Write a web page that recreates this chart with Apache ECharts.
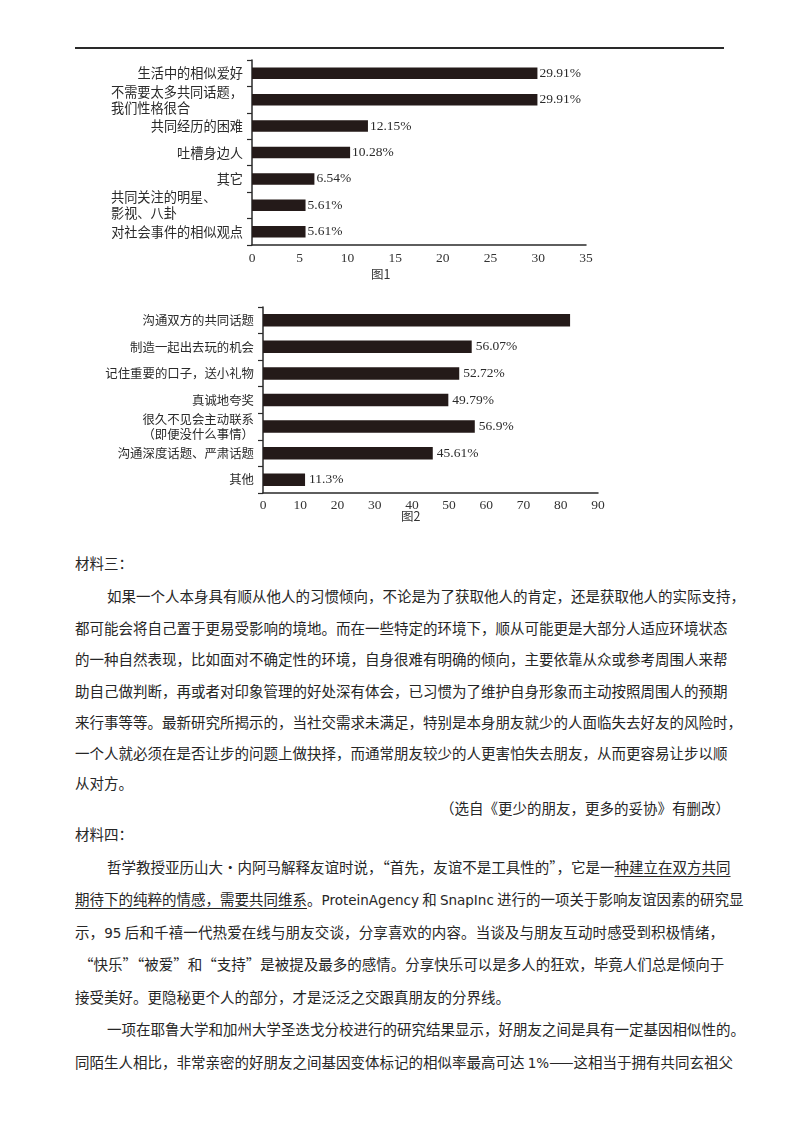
<!DOCTYPE html>
<html>
<head>
<meta charset="utf-8">
<script src="https://cdn.jsdelivr.net/npm/echarts@6/dist/echarts.min.js"></script>
<style>
  html, body { margin:0; padding:0; background:#fff; }
  #page { position:relative; width:800px; height:1132px; overflow:hidden; background:#fff; }
  #chart { position:absolute; left:0; top:0; width:800px; height:540px; }
  .rule { position:absolute; left:75px; top:47px; width:649px; height:2px; background:#2a2a2a; z-index:5; }
  .ln { position:absolute; height:20px; line-height:20px; font-family:"Noto Sans CJK SC", sans-serif;
        font-size:14.5px; color:#262626; white-space:nowrap; }
  .j { text-align:justify; text-align-last:justify; }
  u { text-decoration:underline; text-underline-offset:3px; text-decoration-thickness:1px; }
  .lat { font-family:"DejaVu Sans", sans-serif; font-size:13.5px; }
</style>
</head>
<body>
<div id="page">
  <div id="chart"></div>
  <div class="rule"></div>

  <div class="ln" style="left:75px;top:553px;">材料三：</div>
  <div class="ln j" style="left:107px;top:586px;width:617px;">如果一个人本身具有顺从他人的习惯倾向，不论是为了获取他人的肯定，还是获取他人的实际支持，</div>
  <div class="ln j" style="left:75px;top:618px;width:649px;">都可能会将自己置于更易受影响的境地。而在一些特定的环境下，顺从可能更是大部分人适应环境状态</div>
  <div class="ln j" style="left:75px;top:649px;width:649px;">的一种自然表现，比如面对不确定性的环境，自身很难有明确的倾向，主要依靠从众或参考周围人来帮</div>
  <div class="ln j" style="left:75px;top:681px;width:649px;">助自己做判断，再或者对印象管理的好处深有体会，已习惯为了维护自身形象而主动按照周围人的预期</div>
  <div class="ln j" style="left:75px;top:712px;width:649px;">来行事等等。最新研究所揭示的，当社交需求未满足，特别是本身朋友就少的人面临失去好友的风险时，</div>
  <div class="ln j" style="left:75px;top:743px;width:649px;">一个人就必须在是否让步的问题上做抉择，而通常朋友较少的人更害怕失去朋友，从而更容易让步以顺</div>
  <div class="ln" style="left:75px;top:773px;">从对方。</div>
  <div class="ln" style="left:440px;top:798px;width:284px;text-align:right;">（选自《更少的朋友，更多的妥协》有删改）</div>

  <div class="ln" style="left:75px;top:824px;">材料四：</div>
  <div class="ln j" style="left:107px;top:857px;width:617px;">哲学教授亚历山大•内阿马解释友谊时说，“首先，友谊不是工具性的”，它是一<u>种建立在双方共同</u></div>
  <div class="ln j" style="left:75px;top:889px;width:649px;"><u>期待下的纯粹的情感，需要共同维系</u>。<span class="lat">ProteinAgency</span> 和 <span class="lat">SnapInc</span> 进行的一项关于影响友谊因素的研究显</div>
  <div class="ln j" style="left:75px;top:922px;width:649px;">示，<span class="lat">95</span> 后和千禧一代热爱在线与朋友交谈，分享喜欢的内容。当谈及与朋友互动时感受到积极情绪，</div>
  <div class="ln j" style="left:79px;top:954px;width:644px;">“快乐”“被爱”和“支持”是被提及最多的感情。分享快乐可以是多人的狂欢，毕竟人们总是倾向于</div>
  <div class="ln" style="left:75px;top:987px;">接受美好。更隐秘更个人的部分，才是泛泛之交跟真朋友的分界线。</div>
  <div class="ln j" style="left:107px;top:1019px;width:617px;">一项在耶鲁大学和加州大学圣迭戈分校进行的研究结果显示，好朋友之间是具有一定基因相似性的。</div>
  <div class="ln j" style="left:75px;top:1052px;width:649px;">同陌生人相比，非常亲密的好朋友之间基因变体标记的相似率最高可达 <span class="lat">1%</span>——这相当于拥有共同玄祖父</div>
</div>

<script>
// ---- Data: Figure 1 ----
const fig1Categories = ['生活中的相似爱好', '不需要太多共同话题，\n我们性格很合', '共同经历的困难', '吐槽身边人', '其它', '共同关注的明星、\n影视、八卦', '对社会事件的相似观点'];
const fig1Values = [29.91, 29.91, 12.15, 10.28, 6.54, 5.61, 5.61];
const fig1Labels = ['29.91%', '29.91%', '12.15%', '10.28%', '6.54%', '5.61%', '5.61%'];
const fig1Ticks = [0, 5, 10, 15, 20, 25, 30, 35];

// ---- Data: Figure 2 ----
const fig2Categories = ['沟通双方的共同话题', '制造一起出去玩的机会', '记住重要的口子，送小礼物', '真诚地夸奖', '很久不见会主动联系\n（即便没什么事情）', '沟通深度话题、严肃话题', '其他'];
const fig2Values = [82.5, 56.07, 52.72, 49.79, 56.9, 45.61, 11.3];
const fig2Labels = ['', '56.07%', '52.72%', '49.79%', '56.9%', '45.61%', '11.3%'];
const fig2Ticks = [0, 10, 20, 30, 40, 50, 60, 70, 80, 90];

const CJK = '"Noto Sans CJK SC", sans-serif';
const SERIF = '"Liberation Serif", "DejaVu Serif", serif';
const INK = '#241a19';

function catFormatter(fs) {
  return function (v) {
    if (v.indexOf('\n') < 0) return v;
    const lines = v.split('\n');
    return lines.map(l => '{m|' + l + '}').join('\n');
  };
}
function catRich(fs, cats) {
  let maxLen = 0;
  cats.forEach(c => { if (c.indexOf('\n') >= 0) c.split('\n').forEach(l => { maxLen = Math.max(maxLen, l.length); }); });
  return { m: { width: maxLen * fs, align: 'left', fontSize: fs, fontFamily: CJK, color: '#2a2a2a', lineHeight: fs + 3 } };
}

const chart = echarts.init(document.getElementById('chart'), null, { renderer: 'canvas' });
chart.setOption({
  animation: false,
  backgroundColor: '#fff',
  grid: [
    { left: 252, width: 334, top: 60, height: 185 },
    { left: 263, width: 335, top: 307, height: 186 }
  ],
  xAxis: [
    {
      gridIndex: 0, type: 'value', min: fig1Ticks[0], max: fig1Ticks[fig1Ticks.length - 1], interval: 5,
      axisLine: { show: true, lineStyle: { color: '#2a2a2a', width: 1.5 } },
      axisTick: { show: false }, splitLine: { show: false },
      axisLabel: { margin: 6, fontFamily: SERIF, fontSize: 13.5, color: '#333' }
    },
    {
      gridIndex: 1, type: 'value', min: fig2Ticks[0], max: fig2Ticks[fig2Ticks.length - 1], interval: 10,
      axisLine: { show: true, lineStyle: { color: '#2a2a2a', width: 1.5 } },
      axisTick: { show: false }, splitLine: { show: false },
      axisLabel: { margin: 5, fontFamily: SERIF, fontSize: 13.5, color: '#333' }
    }
  ],
  yAxis: [
    {
      gridIndex: 0, type: 'category', inverse: true, data: fig1Categories,
      axisLine: { show: true, lineStyle: { color: '#2a2a2a', width: 1.5 } },
      axisTick: { show: true, length: 5, lineStyle: { color: '#2a2a2a', width: 1.2 } },
      axisLabel: { margin: 9, fontFamily: CJK, fontSize: 13.2, color: '#2a2a2a', formatter: catFormatter(13.2), rich: catRich(13.2, fig1Categories) }
    },
    {
      gridIndex: 1, type: 'category', inverse: true, data: fig2Categories,
      axisLine: { show: true, lineStyle: { color: '#2a2a2a', width: 1.5 } },
      axisTick: { show: true, length: 5, lineStyle: { color: '#2a2a2a', width: 1.2 } },
      axisLabel: { margin: 9, fontFamily: CJK, fontSize: 12.4, color: '#2a2a2a', formatter: catFormatter(12.4), rich: catRich(12.4, fig2Categories) }
    }
  ],
  series: [
    {
      type: 'bar', xAxisIndex: 0, yAxisIndex: 0, data: fig1Values, barWidth: 11.5,
      itemStyle: { color: INK },
      label: { show: true, position: 'right', distance: 2, fontFamily: SERIF, fontSize: 13.5, color: '#2a2a2a',
               formatter: p => fig1Labels[p.dataIndex] }
    },
    {
      type: 'bar', xAxisIndex: 1, yAxisIndex: 1, data: fig2Values, barWidth: 12.5,
      itemStyle: { color: INK },
      label: { show: true, position: 'right', distance: 4, fontFamily: SERIF, fontSize: 13.5, color: '#2a2a2a',
               formatter: p => fig2Labels[p.dataIndex] }
    }
  ],
  graphic: [
    { type: 'text', left: 371, top: 268, style: { text: '图1', fontFamily: CJK, fontSize: 12.5, fill: '#333' } },
    { type: 'text', left: 401, top: 510, style: { text: '图2', fontFamily: CJK, fontSize: 12.5, fill: '#333' } }
  ]
});
</script>
</body>
</html>
